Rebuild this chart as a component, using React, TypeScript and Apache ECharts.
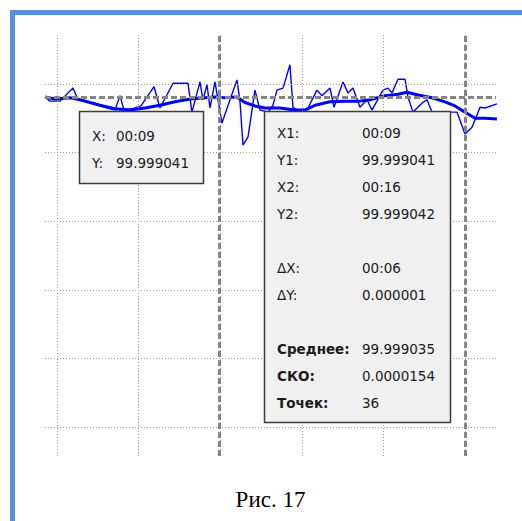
import React, { useEffect, useRef } from "react";
import * as echarts from "echarts";

// x in grid divisions, y in grid divisions
const rawX = [-0.147, -0.086, 0.037, 0.196, 0.257, 0.404, 0.588, 0.711, 0.772, 0.821, 0.931, 1.029, 1.189, 1.262, 1.422, 1.605, 1.654, 1.752, 1.789, 1.838, 1.875, 1.936, 1.973, 2.022, 2.12, 2.206, 2.243, 2.279, 2.341, 2.426, 2.488, 2.586, 2.647, 2.696, 2.77, 2.855, 2.892, 2.978, 3.076, 3.186, 3.248, 3.346, 3.395, 3.505, 3.566, 3.627, 3.713, 3.799, 3.86, 3.995, 4.056, 4.105, 4.179, 4.265, 4.301, 4.363, 4.473, 4.534, 4.596, 4.755, 4.902, 5.0, 5.086, 5.184, 5.245, 5.392];
const rawY = [4.81, 4.75, 4.75, 4.94, 4.77, 4.73, 4.66, 4.62, 4.83, 4.62, 4.64, 4.68, 4.96, 4.65, 5.01, 5.01, 4.59, 5.03, 4.77, 4.99, 4.65, 5.03, 4.77, 4.43, 4.77, 5.06, 4.74, 4.11, 4.23, 4.91, 4.62, 4.59, 4.69, 4.91, 4.94, 5.28, 4.66, 4.59, 4.65, 4.91, 4.83, 4.94, 4.66, 5.03, 4.87, 4.94, 4.66, 4.77, 4.62, 4.91, 4.94, 4.87, 5.07, 5.07, 4.81, 4.59, 4.72, 4.77, 4.59, 4.59, 4.59, 4.27, 4.37, 4.66, 4.65, 4.71];

const smoothX = [-0.147, -0.025, 0.159, 0.282, 0.404, 0.527, 0.711, 0.895, 1.078, 1.262, 1.446, 1.63, 1.814, 1.936, 2.059, 2.206, 2.304, 2.426, 2.549, 2.733, 2.917, 3.039, 3.162, 3.346, 3.529, 3.713, 3.836, 4.02, 4.179, 4.289, 4.424, 4.596, 4.755, 4.877, 5.0, 5.123, 5.245, 5.392];
const smoothY = [4.81, 4.78, 4.8, 4.77, 4.73, 4.69, 4.64, 4.62, 4.65, 4.69, 4.74, 4.78, 4.8, 4.81, 4.8, 4.81, 4.73, 4.68, 4.65, 4.65, 4.62, 4.62, 4.69, 4.74, 4.75, 4.75, 4.77, 4.83, 4.85, 4.88, 4.84, 4.8, 4.74, 4.68, 4.59, 4.5, 4.5, 4.49];

const xGrid = [0, 1, 2, 3, 4, 5];
const yGrid = [0, 1, 2, 3, 4, 5];
const cursorX = [1.99, 5.0];
const cursorY = [4.81];

const leftBoxRows = [
  ["X:", "00:09"],
  ["Y:", "99.999041"],
];
const rightBoxRows: [string, string, boolean][] = [
  ["X1:", "00:09", false],
  ["Y1:", "99.999041", false],
  ["X2:", "00:16", false],
  ["Y2:", "99.999042", false],
  ["", "", false],
  ["ΔX:", "00:06", false],
  ["ΔY:", "0.000001", false],
  ["", "", false],
  ["Среднее:", "99.999035", true],
  ["СКО:", "0.0000154", true],
  ["Точек:", "36", true],
];
const caption = "Рис. 17";

export default function App() {
  const ref = useRef<HTMLDivElement>(null);
  useEffect(() => {
    if (!ref.current) return;
    const chart = echarts.init(ref.current, undefined, { renderer: "svg" });
    const font = "DejaVu Sans";
    const fs = 13.5;
    const txtColor = "#1a1a1a";
    const graphics: any[] = [];
    graphics.push({
      type: "rect",
      z: 100,
      shape: { x: 12.5, y: 12.5, width: 600, height: 600 },
      style: { fill: "none", stroke: "#5b8ed6", lineWidth: 5 },
    });
    // left box
    graphics.push({
      type: "rect",
      z: 100,
      shape: { x: 79.5, y: 111.5, width: 124, height: 72 },
      style: { fill: "#f0f0f0", stroke: "#3c3c3c", lineWidth: 1.5 },
    });
    leftBoxRows.forEach((r, i) => {
      const y = 135.5 + i * 27;
      graphics.push({ type: "text", z: 101, x: 92, y, style: { text: r[0], font: `${fs}px "${font}"`, fill: txtColor, verticalAlign: "middle", align: "left" } });
      graphics.push({ type: "text", z: 101, x: 116, y, style: { text: r[1], font: `${fs}px "${font}"`, fill: txtColor, verticalAlign: "middle", align: "left" } });
    });
    // right box
    graphics.push({
      type: "rect",
      z: 100,
      shape: { x: 264.5, y: 111.5, width: 186, height: 311 },
      style: { fill: "#f0f0f0", stroke: "#3c3c3c", lineWidth: 1.5 },
    });
    rightBoxRows.forEach((r, i) => {
      if (!r[0]) return;
      const y = 133 + i * 27;
      const f = `${r[2] ? "bold " : ""}${fs}px "${font}"`;
      graphics.push({ type: "text", z: 101, x: 277, y, style: { text: r[0], font: f, fill: txtColor, verticalAlign: "middle", align: "left" } });
      graphics.push({ type: "text", z: 101, x: 362, y, style: { text: r[1], font: `${fs}px "${font}"`, fill: txtColor, verticalAlign: "middle", align: "left" } });
    });
    graphics.push({
      type: "text",
      z: 101,
      x: 270.5,
      y: 499,
      style: { text: caption, font: `23px "Liberation Serif"`, fill: "#000", align: "center", verticalAlign: "middle" },
    });

    chart.setOption({
      animation: false,
      backgroundColor: "#fff",
      grid: { left: 45, top: 35, width: 451, height: 421, containLabel: false },
      xAxis: { type: "value", min: -0.147, max: 5.38, show: false, splitLine: { show: false } },
      yAxis: { type: "value", min: -0.423, max: 5.714, show: false, splitLine: { show: false } },
      graphic: graphics,
      series: [
        {
          type: "line",
          z: 1,
          silent: true,
          data: rawX.map((x, i) => [x, rawY[i]]),
          lineStyle: { opacity: 0 },
          symbol: "none",
          markLine: {
            silent: true,
            symbol: ["none", "none"],
            label: { show: false },
            lineStyle: { type: [1, 2], color: "#9a9a9a", width: 1 },
            data: [...xGrid.map((v) => ({ xAxis: v })), ...yGrid.map((v) => ({ yAxis: v }))],
          },
        },
        {
          type: "line",
          z: 2,
          silent: true,
          data: [],
          markLine: {
            silent: true,
            symbol: ["none", "none"],
            label: { show: false },
            lineStyle: { type: [6, 3], color: "#858585", width: 3 },
            data: [...cursorX.map((v) => ({ xAxis: v })), ...cursorY.map((v) => ({ yAxis: v }))],
          },
        },
        {
          type: "line",
          z: 3,
          silent: true,
          data: rawX.map((x, i) => [x, rawY[i]]),
          symbol: "none",
          lineStyle: { color: "#0000ff", width: 1.4 },
        },
        {
          type: "line",
          z: 4,
          silent: true,
          data: smoothX.map((x, i) => [x, smoothY[i]]),
          symbol: "none",
          lineStyle: { color: "#0000ff", width: 3 },
        },
      ],
    });
    return () => chart.dispose();
  }, []);
  return <div ref={ref} style={{ position: "fixed", left: 0, top: 0, width: 522, height: 521 }} />;
}
